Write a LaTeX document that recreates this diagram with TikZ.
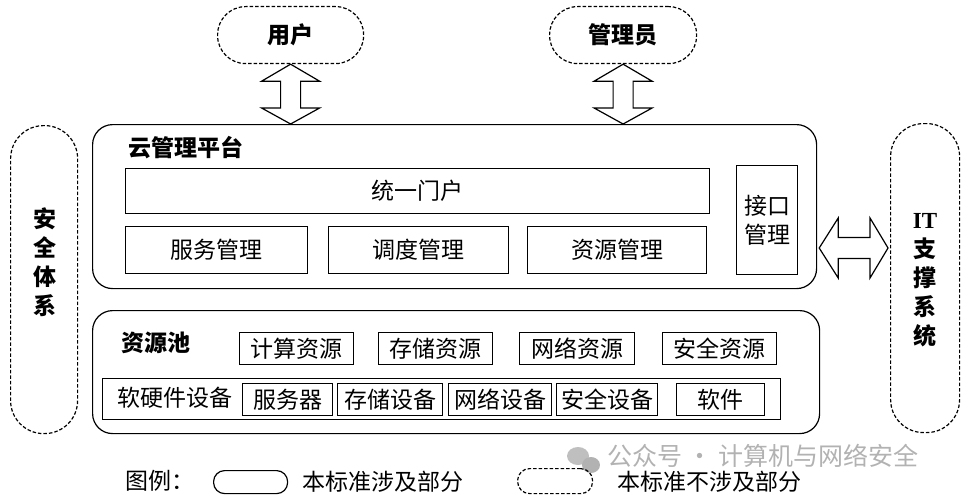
\documentclass[tikz,border=0pt]{standalone}
\usepackage{fontspec}
\setmainfont{Noto Sans CJK SC}
\newfontfamily\itfont{Liberation Serif}
\usetikzlibrary{calc}
\tikzset{
  x=1pt, y=-1pt,
  every node/.style={font=\fontsize{23}{29}\selectfont, inner sep=0pt},
  lw/.style={line width=1.2pt},
  solidbox/.style={draw, lw, anchor=north west},
  bigbox/.style={draw, lw, anchor=north west, rounded corners=20pt},
  dashcap/.style={draw, lw, dash pattern=on 3.5pt off 2pt, anchor=north west, rounded corners=28pt},
  tallcap/.style={draw, lw, dash pattern=on 3.5pt off 2pt, anchor=north west, rounded corners=33pt},
  bold/.style={font=\fontsize{23}{29}\selectfont\bfseries},
  hollow/.style={draw, lw, fill=white, line join=miter},
  wm/.style={text=black!30, font=\fontsize{25}{28}\selectfont},
}
\begin{document}
\begin{tikzpicture}
\useasboundingbox (0,0) rectangle (968,500);
% external actors
\node[dashcap, minimum width=146pt, minimum height=57pt, bold] (user) at (217,6) {用户};
\node[dashcap, minimum width=147pt, minimum height=57pt, bold] (admin) at (549,6) {管理员};
\node[tallcap, minimum width=67pt, minimum height=308pt] (sec) at (10,125) {};
\node[bold, align=center] (sectext) at (45,262) {安\\全\\体\\系};
\node[tallcap, minimum width=69pt, minimum height=309pt] (it) at (890,123) {};
\node[bold, align=center] (ittext) at ($(it.center)+(0,2)$) {{\itfont\bfseries IT}\\支\\撑\\系\\统};
% platform
\node[bigbox, minimum width=724pt, minimum height=164pt] (plat) at (92,124) {};
\node[bold, anchor=west] (plattitle) at (128,148) {云管理平台};
\node[solidbox, minimum width=584pt, minimum height=45pt] (portal) at (125,168) {统一门户};
\node[solidbox, minimum width=182pt, minimum height=47pt] (svc) at (125,226) {服务管理};
\node[solidbox, minimum width=180pt, minimum height=47pt] (sched) at (328,226) {调度管理};
\node[solidbox, minimum width=179pt, minimum height=47pt] (resm) at (527,226) {资源管理};
\node[solidbox, minimum width=61pt, minimum height=109pt, align=center] (iface) at (736,165) {接口\\管理};
% resource pool
\node[bigbox, minimum width=727pt, minimum height=123pt] (pool) at (92,310) {};
\node[bold] (pooltitle) at (156,343) {资源池};
\node[solidbox, minimum width=114pt, minimum height=32pt] (calc) at (239,332) {计算资源};
\node[solidbox, minimum width=114pt, minimum height=32pt] (stor) at (378,332) {存储资源};
\node[solidbox, minimum width=115pt, minimum height=32pt] (net) at (519,332) {网络资源};
\node[solidbox, minimum width=114pt, minimum height=32pt] (secres) at (662,332) {安全资源};
\node[solidbox, minimum width=678pt, minimum height=41pt] (hw) at (102,378) {};
\node (hwtitle) at (175,398) {软硬件设备};
\node[solidbox, minimum width=90pt, minimum height=32pt] (server) at (242,383) {服务器};
\node[solidbox, minimum width=105pt, minimum height=32pt] (stdev) at (337,383) {存储设备};
\node[solidbox, minimum width=103pt, minimum height=32pt] (netdev) at (448,383) {网络设备};
\node[solidbox, minimum width=101pt, minimum height=32pt] (secdev) at (556,383) {安全设备};
\node[solidbox, minimum width=88pt, minimum height=32pt] (soft) at (676,383) {软件};
% hollow double arrows
\draw[hollow] let \p1=(user.south), \p2=(plat.north) in
  (\x1,\y1) -- (\x1+29pt,\y1-17pt) -- (\x1+10pt,\y1-17pt) -- (\x1+10pt,\y2+16pt)
  -- (\x1+29pt,\y2+16pt) -- (\x1,\y2) -- (\x1-29pt,\y2+16pt) -- (\x1-10pt,\y2+16pt)
  -- (\x1-10pt,\y1-17pt) -- (\x1-29pt,\y1-17pt) -- cycle;
\draw[hollow] let \p1=(admin.south), \p2=(plat.north) in
  (\x1,\y1) -- (\x1+29pt,\y1-17pt) -- (\x1+10pt,\y1-17pt) -- (\x1+10pt,\y2+16pt)
  -- (\x1+29pt,\y2+16pt) -- (\x1,\y2) -- (\x1-29pt,\y2+16pt) -- (\x1-10pt,\y2+16pt)
  -- (\x1-10pt,\y1-17pt) -- (\x1-29pt,\y1-17pt) -- cycle;
\coordinate (hy) at (0,248);
\draw[hollow] let \p1=($(plat.east)+(2pt,0)$), \p2=($(it.west)+(-2pt,0)$), \p3=(hy) in
  (\x1,\y3) -- (\x1+19pt,\y3+30pt) -- (\x1+19pt,\y3+10.5pt) -- (\x2-18pt,\y3+10.5pt)
  -- (\x2-18pt,\y3+30pt) -- (\x2,\y3) -- (\x2-18pt,\y3-30pt) -- (\x2-18pt,\y3-10.5pt)
  -- (\x1+19pt,\y3-10.5pt) -- (\x1+19pt,\y3-30pt) -- cycle;
% legend
\node (legtitle) at (160,481) {图例：};
\node[draw, lw, rounded corners=11pt, minimum width=74pt, minimum height=23pt, anchor=north west] (legsolid) at (213,470) {};
\node[anchor=west] (legsolidtext) at (302,482) {本标准涉及部分};
% watermark
\fill[black!25] (578,456) ellipse (11pt and 9pt);
\fill[black!30] (591,465) ellipse (9pt and 8pt);
\node[wm, anchor=west] (wmtext) at (607,456) {公众号 · 计算机与网络安全};
\node[draw, lw, dash pattern=on 3.5pt off 2pt, rounded corners=12pt, minimum width=75pt, minimum height=25pt, anchor=north west] (legdash) at (517,468) {};
\node[anchor=west] (legdashtext) at (617,482) {本标准不涉及部分};
\end{tikzpicture}
\end{document}
